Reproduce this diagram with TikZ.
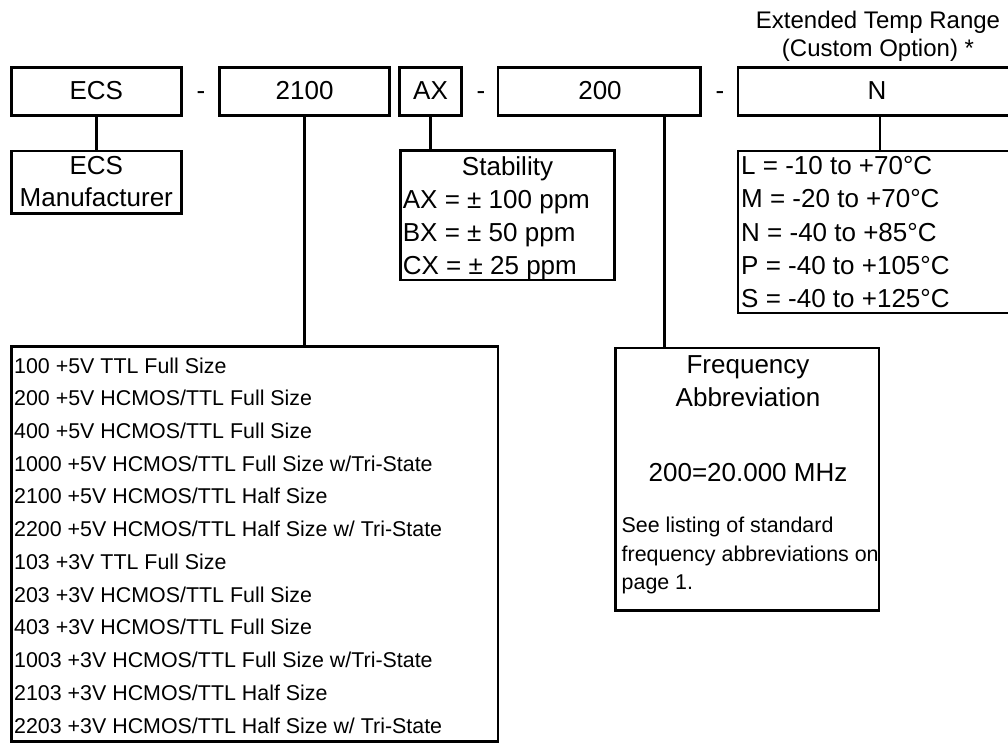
\documentclass[tikz,border=0pt]{standalone}
\usepackage{fontspec}
\setmainfont{Liberation Sans}
\begin{document}
\begin{tikzpicture}[x=1pt,y=-1pt,
  box/.style={draw, line width=2.8pt, inner sep=0pt, rectangle},
  big/.style={font=\fontsize{26}{33}\selectfont, inner sep=0pt},
  mid/.style={font=\fontsize{24}{29}\selectfont, inner sep=0pt},
  small/.style={font=\fontsize{21.4}{29}\selectfont, inner sep=0pt},
  wire/.style={line width=2.8pt}]
\useasboundingbox (0,0) rectangle (1008,743);
\clip (0,0) rectangle (1008,743);
% top row boxes
\node[box, minimum width=170pt, minimum height=48pt] (ecs) at (96.3,91.3) {};
\node[box, minimum width=169.8pt, minimum height=48pt] (b2100) at (304.6,91.3) {};
\node[box, minimum width=61.6pt, minimum height=48pt] (ax) at (430.5,91.3) {};
\node[box, minimum width=202.3pt, minimum height=48pt] (b200) at (599.2,91.3) {};
\node[box, minimum width=284pt, minimum height=48pt] (bn) at (880,91.3) {};
% top row texts
\node[big, anchor=base] (tecs) at (96.3,100) {ECS};
\node[big, anchor=base] (d1) at (201,100) {-};
\node[big, anchor=base] (t2100) at (304.6,100) {2100};
\node[big, anchor=base] (tax) at (430.5,100) {AX};
\node[big, anchor=base] (d2) at (481,100) {-};
\node[big, anchor=base] (t200) at (600,100) {200};
\node[big, anchor=base] (d3) at (720,100) {-};
\node[big, anchor=base] (tn) at (877,100) {N};
% extended temp caption
\node[mid, anchor=base] (ext1) at (878,28.5) {Extended Temp Range};
\node[mid, anchor=base] (ext2) at (878,57) {(Custom Option) *};
% lower boxes
\node[box, minimum width=170pt, minimum height=62.7pt] (mfr) at (96.3,182.4) {};
\node[box, minimum width=214.4pt, minimum height=129.5pt] (stab) at (507.5,215.3) {};
\node[box, minimum width=284pt, minimum height=162pt] (temp) at (880,232) {};
\node[box, minimum width=486.7pt, minimum height=394.6pt] (list) at (254.7,544) {};
\node[box, minimum width=263.3pt, minimum height=262.7pt] (freq) at (747.4,479.4) {};
% connectors
\draw[wire] (ecs.south) -- (mfr.north);
\draw[wire] (b2100.south) -- (b2100.south |- list.north);
\draw[wire] (ax.south) -- (ax.south |- stab.north);
\coordinate (c200) at (664.3,115.3);
\draw[wire] (c200) -- (c200 |- freq.north);
\draw[wire] (bn.south) -- (temp.north);
% manufacturer text
\node[big, anchor=base] (m1) at (96.3,175) {ECS};
\node[big, anchor=base] (m2) at (96.3,206.7) {Manufacturer};
% stability text
\node[big, anchor=base] (s0) at (507.5,175.5) {Stability};
\node[big, anchor=base west] (s1) at (402.7,208.5) {AX = ± 100 ppm};
\node[big, anchor=base west] (s2) at (402.7,241.5) {BX = ± 50 ppm};
\node[big, anchor=base west] (s3) at (402.7,274.5) {CX = ± 25 ppm};
% temperature text
\node[big, anchor=base west] (r1) at (741,175) {L = -10 to +70°C};
\node[big, anchor=base west] (r2) at (741,208) {M = -20 to +70°C};
\node[big, anchor=base west] (r3) at (741,241) {N = -40 to +85°C};
\node[big, anchor=base west] (r4) at (741,274) {P = -40 to +105°C};
\node[big, anchor=base west] (r5) at (741,307) {S = -40 to +125°C};
% list text
\foreach [count=\k] \t in {100 +5V TTL Full Size, 200 +5V HCMOS/TTL Full Size, 400 +5V HCMOS/TTL Full Size, 1000 +5V HCMOS/TTL Full Size w/Tri-State, 2100 +5V HCMOS/TTL Half Size, 2200 +5V HCMOS/TTL Half Size w/ Tri-State, 103 +3V TTL Full Size, 203 +3V HCMOS/TTL Full Size, 403 +3V HCMOS/TTL Full Size, 1003 +3V HCMOS/TTL Full Size w/Tri-State, 2103 +3V HCMOS/TTL Half Size, 2203 +3V HCMOS/TTL Half Size w/ Tri-State}
  \node[small, anchor=base west] (l\k) at (14,{373+32.73*(\k-1)}) {\t};
% frequency text
\node[big, anchor=base] (f1) at (748,373) {Frequency};
\node[big, anchor=base] (f2) at (748,406) {Abbreviation};
\node[big, anchor=base] (f3) at (748,481) {200=20.000 MHz};
\node[small, anchor=base west] (f4) at (621.5,532.3) {See listing of standard};
\node[small, anchor=base west] (f5) at (621.5,561) {frequency abbreviations on};
\node[small, anchor=base west] (f6) at (621.5,589) {page 1.};
\end{tikzpicture}
\end{document}
